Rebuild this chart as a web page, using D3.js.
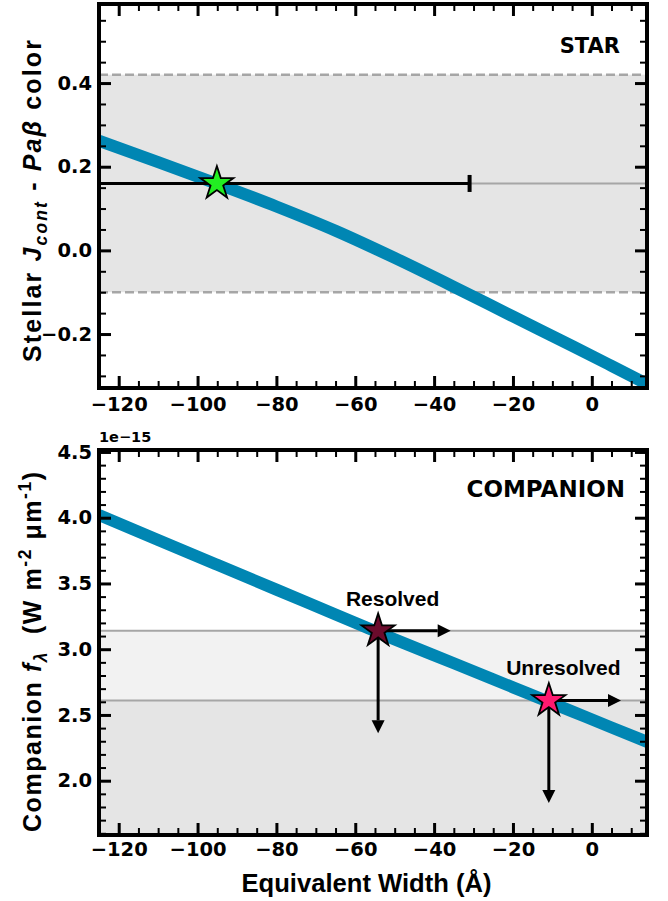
<!DOCTYPE html>
<html>
<head>
<meta charset="utf-8">
<script src="https://cdn.jsdelivr.net/npm/d3@7"></script>
<style>
  body { margin: 0; background: #fff; }
  text { white-space: pre; }
</style>
</head>
<body>
<svg id="fig" width="668" height="901"></svg>
<script>
// ---- data -------------------------------------------------------------
// Equivalent-width grid shared by both model curves (Å)
const ewGrid = [-125, -110, -95, -80, -65, -50, -35, -20, -5, 5, 14.5];
// Model stellar J_cont − Paβ colour along the grid
const starColor = [0.262, 0.211, 0.159, 0.105, 0.047, -0.018, -0.087, -0.158, -0.228, -0.276, -0.322];
// Model companion flux density along the grid (×1e-15 W m^-2 µm^-1)
const compFlux = [4.020, 3.831, 3.642, 3.453, 3.264, 3.075, 2.893, 2.710, 2.527, 2.405, 2.290];

// Measured stellar colour and its allowed range
const colorBand = [-0.10, 0.42];
const colorObs = 0.16;
const starEW = -95.1;
const starEWRange = [-160, -31];

// Companion flux measurements (upper limits on EW and flux)
const obsLabels = ["Resolved", "Unresolved"];
const obsEW = [-54.2, -10.9];
const obsFlux = [3.14, 2.61];
const obsColors = ["#6b0b2c", "#ff1a70"];
const limitEW = [-35.8, 7.4];
const limitFlux = [2.36, 1.83];

// Axis ticks
const xMajor = [-120, -100, -80, -60, -40, -20, 0];
const topYMajor = [-0.2, 0.0, 0.2, 0.4];
const botYMajor = [2.0, 2.5, 3.0, 3.5, 4.0, 4.5];

// ---- layout -----------------------------------------------------------
const svg = d3.select("#fig");
const L = 99, R = 647;
const P1 = { top: 4, bottom: 388 };
const P2 = { top: 450, bottom: 835 };

const x = d3.scaleLinear().domain([-125, 14]).range([L, R]);
const yTop = d3.scaleLinear().domain([-0.329, 0.589]).range([P1.bottom, P1.top]);
const yBot = d3.scaleLinear().domain([1.587, 4.515]).range([P2.bottom, P2.top]);

const BLUE = "#0086b3";
const GRID_GREY = "#a6a6a6";
const TICK_FONT = "'DejaVu Sans', sans-serif";
const LABEL_FONT = "'Liberation Sans', Arial, sans-serif";

const defs = svg.append("defs");
function clip(id, p) {
  defs.append("clipPath").attr("id", id)
    .append("rect").attr("x", L).attr("y", p.top)
    .attr("width", R - L).attr("height", p.bottom - p.top);
}
clip("clipTop", P1);
clip("clipBot", P2);

const line = (ys) => d3.line()
  .x((d, i) => x(ewGrid[i]))
  .y((d) => ys(d))
  .curve(d3.curveMonotoneX);

const star = d3.symbol().type(d3.symbolStar).size(340);

// ---- top panel: stellar colour ---------------------------------------
const g1 = svg.append("g").attr("clip-path", "url(#clipTop)");

g1.append("rect")
  .attr("x", L).attr("width", R - L)
  .attr("y", yTop(colorBand[1]))
  .attr("height", yTop(colorBand[0]) - yTop(colorBand[1]))
  .attr("fill", "#e5e5e5");

g1.selectAll("line.band").data(colorBand).join("line")
  .attr("x1", L).attr("x2", R)
  .attr("y1", d => yTop(d)).attr("y2", d => yTop(d))
  .attr("stroke", GRID_GREY).attr("stroke-width", 2.5)
  .attr("stroke-dasharray", "9,4");

g1.append("line")
  .attr("x1", L).attr("x2", R)
  .attr("y1", yTop(colorObs)).attr("y2", yTop(colorObs))
  .attr("stroke", GRID_GREY).attr("stroke-width", 2);

g1.append("path").datum(starColor)
  .attr("d", line(yTop))
  .attr("fill", "none").attr("stroke", BLUE).attr("stroke-width", 12);

// horizontal error bar on the stellar EW
g1.append("line")
  .attr("x1", x(starEWRange[0])).attr("x2", x(starEWRange[1]))
  .attr("y1", yTop(colorObs)).attr("y2", yTop(colorObs))
  .attr("stroke", "#000").attr("stroke-width", 3);
g1.append("line")
  .attr("x1", x(starEWRange[1])).attr("x2", x(starEWRange[1]))
  .attr("y1", yTop(colorObs) - 8.5).attr("y2", yTop(colorObs) + 8.5)
  .attr("stroke", "#000").attr("stroke-width", 4);

g1.append("path")
  .attr("d", star())
  .attr("transform", `translate(${x(starEW)},${yTop(colorObs)})`)
  .attr("fill", "#22ee22").attr("stroke", "#000").attr("stroke-width", 1.8);

// ---- bottom panel: companion flux ------------------------------------
const g2 = svg.append("g").attr("clip-path", "url(#clipBot)");

g2.append("rect")
  .attr("x", L).attr("width", R - L)
  .attr("y", yBot(obsFlux[1]))
  .attr("height", P2.bottom - yBot(obsFlux[1]))
  .attr("fill", "#e5e5e5");
g2.append("rect")
  .attr("x", L).attr("width", R - L)
  .attr("y", yBot(obsFlux[0]))
  .attr("height", yBot(obsFlux[1]) - yBot(obsFlux[0]))
  .attr("fill", "#f2f2f2");

g2.selectAll("line.level").data(obsFlux).join("line")
  .attr("x1", L).attr("x2", R)
  .attr("y1", d => yBot(d)).attr("y2", d => yBot(d))
  .attr("stroke", GRID_GREY).attr("stroke-width", 2);

g2.append("path").datum(compFlux)
  .attr("d", line(yBot))
  .attr("fill", "none").attr("stroke", BLUE).attr("stroke-width", 12);

// arrow from (x0,y0) to (x1,y1) in pixels, with a filled head
function arrow(g, x0, y0, x1, y1) {
  const head = 13, half = 6.5;
  const dx = x1 - x0, dy = y1 - y0, len = Math.hypot(dx, dy);
  const ux = dx / len, uy = dy / len;
  const bx = x1 - ux * head, by = y1 - uy * head;
  g.append("line")
    .attr("x1", x0).attr("y1", y0).attr("x2", bx).attr("y2", by)
    .attr("stroke", "#000").attr("stroke-width", 3);
  g.append("path")
    .attr("d", `M${x1},${y1}L${bx - uy * half},${by + ux * half}L${bx + uy * half},${by - ux * half}Z`)
    .attr("fill", "#000");
}

obsEW.forEach((ew, i) => {
  const px = x(ew), py = yBot(obsFlux[i]);
  arrow(g2, px, py, x(limitEW[i]), py);
  arrow(g2, px, py, px, yBot(limitFlux[i]));
});

g2.selectAll("path.obs").data(obsEW).join("path")
  .attr("d", star())
  .attr("transform", (d, i) => `translate(${x(d)},${yBot(obsFlux[i])})`)
  .attr("fill", (d, i) => obsColors[i])
  .attr("stroke", "#000").attr("stroke-width", 1.8);

g2.selectAll("text.obs").data(obsLabels).join("text")
  .attr("x", (d, i) => x(obsEW[i]) + 14.5)
  .attr("y", (d, i) => yBot(obsFlux[i]) - 25)
  .attr("text-anchor", "middle")
  .attr("font-family", LABEL_FONT).attr("font-weight", "bold")
  .attr("font-size", 21)
  .text(d => d);

// ---- frames and ticks -------------------------------------------------
function frame(p, y, yMajor, yMinor, fmt, xPad) {
  const g = svg.append("g");
  const xMinor = d3.range(-125, 15, 5).filter(v => !xMajor.includes(v));

  function styleAxis(sel, width) {
    sel.select(".domain").remove();
    sel.selectAll(".tick line").attr("stroke", "#000").attr("stroke-width", width);
    sel.selectAll(".tick text")
      .attr("fill", "#000")
      .attr("font-family", TICK_FONT).attr("font-weight", "bold")
      .attr("font-size", 19.5);
  }
  const bottomMaj = g.append("g").attr("transform", `translate(0,${p.bottom})`)
    .call(d3.axisBottom(x).tickValues(xMajor).tickSizeInner(-12).tickSizeOuter(0)
      .tickPadding(xPad).tickFormat(d3.format("d")));
  styleAxis(bottomMaj, 3);
  const topMaj = g.append("g").attr("transform", `translate(0,${p.top})`)
    .call(d3.axisTop(x).tickValues(xMajor).tickSizeInner(-12).tickSizeOuter(0).tickFormat(""));
  styleAxis(topMaj, 3);
  [[d3.axisBottom, p.bottom], [d3.axisTop, p.top]].forEach(([ax, pos]) => {
    const m = g.append("g").attr("transform", `translate(0,${pos})`)
      .call(ax(x).tickValues(xMinor).tickSizeInner(-7).tickSizeOuter(0).tickFormat(""));
    styleAxis(m, 2);
  });

  const leftMaj = g.append("g").attr("transform", `translate(${L},0)`)
    .call(d3.axisLeft(y).tickValues(yMajor).tickSizeInner(-12).tickSizeOuter(0)
      .tickPadding(7).tickFormat(fmt));
  styleAxis(leftMaj, 3);
  const rightMaj = g.append("g").attr("transform", `translate(${R},0)`)
    .call(d3.axisRight(y).tickValues(yMajor).tickSizeInner(-12).tickSizeOuter(0).tickFormat(""));
  styleAxis(rightMaj, 3);
  [[d3.axisLeft, L], [d3.axisRight, R]].forEach(([ax, pos]) => {
    const m = g.append("g").attr("transform", `translate(${pos},0)`)
      .call(ax(y).tickValues(yMinor).tickSizeInner(-7).tickSizeOuter(0).tickFormat(""));
    styleAxis(m, 2);
  });

  g.append("rect")
    .attr("x", L).attr("y", p.top).attr("width", R - L).attr("height", p.bottom - p.top)
    .attr("fill", "none").attr("stroke", "#000").attr("stroke-width", 4);
}

const f1 = d3.format(".1f");
frame(P1, yTop, topYMajor,
  d3.range(-6, 12).map(i => +(i * 0.05).toFixed(2)).filter(v => !topYMajor.includes(v)),
  f1, 9);
frame(P2, yBot, botYMajor,
  d3.range(16, 46).map(i => +(i * 0.1).toFixed(1)).filter(v => !botYMajor.includes(v)),
  f1, 7);

// ---- panel titles, offset text and axis labels ------------------------
svg.append("text").attr("x", 620).attr("y", 53)
  .attr("text-anchor", "end").attr("font-family", TICK_FONT)
  .attr("font-weight", "bold").attr("font-size", 21).text("STAR");
svg.append("text").attr("x", 625).attr("y", 497)
  .attr("text-anchor", "end").attr("font-family", TICK_FONT)
  .attr("font-weight", "bold").attr("font-size", 23).text("COMPANION");
svg.append("text").attr("x", 99).attr("y", 442)
  .attr("font-family", TICK_FONT).attr("font-weight", "bold")
  .attr("font-size", 14.5).text("1e\u221215");

svg.append("text").attr("x", 366.5).attr("y", 892)
  .attr("text-anchor", "middle").attr("font-family", LABEL_FONT)
  .attr("font-weight", "bold").attr("font-size", 25.6)
  .text("Equivalent Width (Å)");

function richLabel(cx, cy, size, span, parts) {
  const t = svg.append("text")
    .attr("transform", `translate(${cx},${cy}) rotate(-90)`)
    .attr("text-anchor", "middle").attr("font-family", LABEL_FONT)
    .attr("font-weight", "bold").attr("font-size", size)
    .attr("textLength", span).attr("lengthAdjust", "spacing");
  let shift = 0;
  parts.forEach(p => {
    const s = t.append("tspan").text(p.t);
    if (p.it) s.attr("font-style", "italic");
    let target = 0;
    if (p.sub) { s.attr("font-size", size * 0.7); target = size * 0.25; }
    if (p.sup) { s.attr("font-size", size * 0.7); target = -size * 0.4; }
    if (target !== shift) { s.attr("dy", target - shift); shift = target; }
  });
}

richLabel(41, 201, 25, 322, [
  { t: "Stellar " }, { t: "J", it: true }, { t: "cont", it: true, sub: true },
  { t: " - " }, { t: "Paβ", it: true }, { t: " color" }
]);
richLabel(41, 652, 25, 360, [
  { t: "Companion " }, { t: "f", it: true }, { t: "λ", it: true, sub: true },
  { t: "  (W m" }, { t: "-2", sup: true }, { t: " μm" }, { t: "-1", sup: true }, { t: ")" }
]);
</script>
</body>
</html>
